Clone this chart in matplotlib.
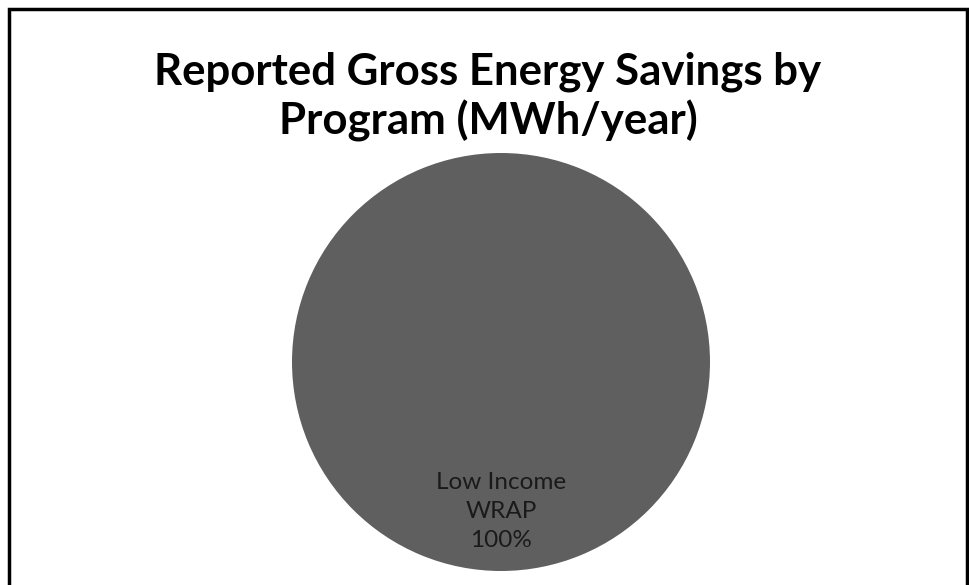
import matplotlib.pyplot as plt
from matplotlib.patches import Rectangle

programs = ['Low Income\nWRAP']
savings = [100.0]
colors = ['#5f5f5f']

title = 'Reported Gross Energy Savings by\nProgram (MWh/year)'

fig = plt.figure(figsize=(9.69, 5.85), dpi=100)

# outer chart border (bottom edge runs off the picture)
fig.patches.append(Rectangle((8.5 / 969, -0.05), 958 / 969, 1.05 - 9.5 / 585,
                             transform=fig.transFigure, fill=False,
                             edgecolor='black', linewidth=2.5))

fig.text(488 / 969, 1 - 97 / 585, title, ha='center', va='center',
         fontsize=31.5, fontweight='bold', family='Lato', linespacing=1.22)

ax = fig.add_axes([(501 - 209) / 969, (223 - 209) / 585, 418 / 969, 418 / 585])
names = iter(programs)
wedges, texts, autotexts = ax.pie(
    savings, colors=colors, startangle=90, counterclock=False,
    autopct=lambda p: f"{next(names)}\n{p:.0f}%", pctdistance=0.715,
    wedgeprops=dict(linewidth=0),
    textprops=dict(color='#1a1a1a', fontsize=17.5, family='Lato', linespacing=1.48))
ax.set_xlim(-1, 1)
ax.set_ylim(-1, 1)
ax.set_aspect('equal')
ax.axis('off')

fig.savefig('out.png', dpi=100)
